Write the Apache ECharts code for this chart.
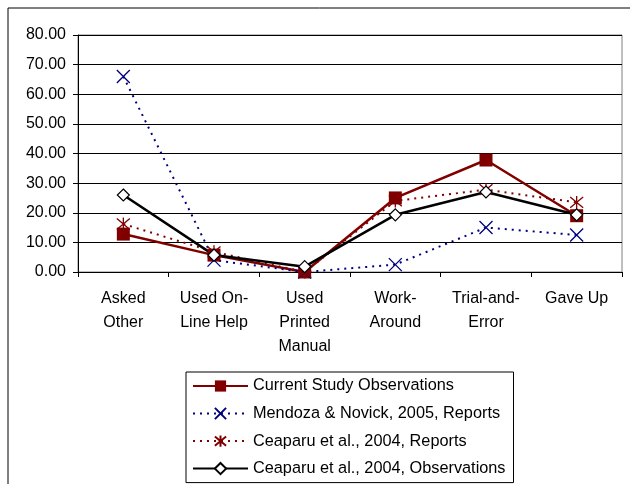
<!DOCTYPE html>
<html>
<head>
<meta charset="utf-8">
<script src="https://cdn.jsdelivr.net/npm/echarts@6/dist/echarts.min.js"></script>
<style>
  html, body { margin: 0; padding: 0; background: #fff; }
  #chart { width: 630px; height: 484px; }
</style>
</head>
<body>
<div id="chart"></div>
<script>
const categories = ['Asked\nOther', 'Used On-\nLine Help', 'Used\nPrinted\nManual', 'Work-\nAround', 'Trial-and-\nError', 'Gave Up'];
const currentStudy = [12.8, 5.7, 0.0, 25.0, 37.8, 19.0];
const mendozaReports = [66.0, 4.0, 0.0, 2.5, 15.0, 12.5];
const ceaparuReports = [16.2, 6.8, 0.0, 24.0, 27.8, 23.5];
const ceaparuObs = [26.0, 5.7, 1.8, 19.3, 27.0, 19.3];

const xPath = 'path://M0,0 L10,10 M10,0 L0,10';
const starPath = 'path://M0,0 L10,10 M10,0 L0,10 M5,-1 L5,11';

const chart = echarts.init(document.getElementById('chart'));
chart.setOption({
  animation: false,
  textStyle: { fontFamily: 'Liberation Sans, Arial, sans-serif' },
  graphic: [{
    type: 'rect',
    shape: { x: 8, y: 8, width: 640, height: 500 },
    style: { fill: 'none', stroke: '#000', lineWidth: 1 },
    silent: true
  }, {
    type: 'rect',
    shape: { x: 78, y: 35, width: 544, height: 237 },
    style: { fill: 'none', stroke: '#808080', lineWidth: 1 },
    silent: true,
    z: -1
  }],
  grid: { left: 78, right: 8, top: 35, bottom: 212 },
  legend: {
    orient: 'vertical',
    left: 186,
    top: 372,
    height: 130,
    padding: [6, 8, 6, 6],
    itemWidth: 55,
    itemHeight: 14,
    itemGap: 11.4,
    borderColor: '#000',
    borderWidth: 1,
    textStyle: { fontSize: 16.3, lineHeight: 14, color: '#000' },
    data: ['Current Study Observations', 'Mendoza & Novick, 2005, Reports', 'Ceaparu et al., 2004, Reports', 'Ceaparu et al., 2004, Observations']
  },
  xAxis: {
    type: 'category',
    data: categories,
    boundaryGap: true,
    axisLine: { lineStyle: { color: '#000', width: 1 } },
    axisTick: { show: true, length: 5, inside: false, lineStyle: { color: '#000' } },
    axisLabel: { color: '#000', fontSize: 16, lineHeight: 24, margin: 15, interval: 0 }
  },
  yAxis: {
    type: 'value',
    min: 0,
    max: 80,
    interval: 10,
    axisLine: { show: true, lineStyle: { color: '#000', width: 1 } },
    axisTick: { show: true, length: 5, lineStyle: { color: '#000' } },
    axisLabel: { color: '#000', fontSize: 16, margin: 12, formatter: v => v.toFixed(2) },
    splitLine: { show: true, lineStyle: { color: '#000', width: 1 } }
  },
  series: [
    {
      name: 'Current Study Observations',
      type: 'line',
      data: currentStudy,
      symbol: 'rect',
      symbolSize: 13,
      lineStyle: { color: '#800000', width: 2.5 },
      itemStyle: { color: '#800000' }
    },
    {
      name: 'Mendoza & Novick, 2005, Reports',
      type: 'line',
      data: mendozaReports,
      symbol: xPath,
      symbolSize: 13,
      lineStyle: { color: '#000080', width: 2, type: [2, 5] },
      itemStyle: { color: 'none', borderColor: '#000080', borderWidth: 1.3 }
    },
    {
      name: 'Ceaparu et al., 2004, Reports',
      type: 'line',
      data: ceaparuReports,
      symbol: starPath,
      symbolSize: 13,
      lineStyle: { color: '#800000', width: 2, type: [2, 5] },
      itemStyle: { color: 'none', borderColor: '#800000', borderWidth: 1.3 }
    },
    {
      name: 'Ceaparu et al., 2004, Observations',
      type: 'line',
      data: ceaparuObs,
      symbol: 'diamond',
      symbolSize: 12,
      lineStyle: { color: '#000', width: 2.5 },
      itemStyle: { color: '#fff', borderColor: '#000', borderWidth: 1.2 }
    }
  ]
});
</script>
</body>
</html>
